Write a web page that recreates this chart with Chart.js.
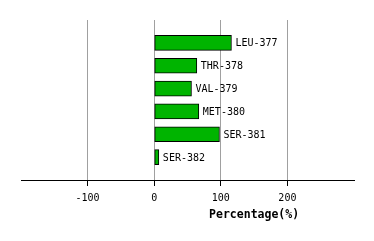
<!DOCTYPE html>
<html>
<head>
<meta charset="utf-8">
<script src="https://cdn.jsdelivr.net/npm/chart.js@4"></script>
<style>
  html, body { margin: 0; padding: 0; background: #fff; }
  #wrap { width: 374px; height: 241px; }
</style>
</head>
<body>
<div id="wrap"><canvas id="chart" width="374" height="241"></canvas></div>
<script>
// residues and their percentage values
const residues = ['LEU-377', 'THR-378', 'VAL-379', 'MET-380', 'SER-381', 'SER-382'];
const percentages = [116, 64, 56, 67, 98, 7];
const xTicks = [-100, 0, 100, 200];
const axisTitle = 'Percentage(%)';

const FONT = "'DejaVu Sans Mono', monospace";

// labels next to each bar + the axis title
const barLabels = {
    id: 'barLabels',
    afterDatasetsDraw(chart) {
        const ctx = chart.ctx;
        const meta = chart.getDatasetMeta(0);
        ctx.save();
        ctx.font = '10px ' + FONT;
        ctx.fillStyle = '#000';
        ctx.textBaseline = 'middle';
        ctx.textAlign = 'left';
        meta.data.forEach((bar, i) => {
            ctx.fillText(residues[i], bar.x + 4, bar.y + 1);
        });
        const xs = chart.scales.x;
        ctx.font = 'bold 11.5px ' + FONT;
        ctx.textAlign = 'center';
        ctx.fillText(axisTitle, xs.getPixelForValue(150), 215);
        ctx.restore();
    }
};

new Chart(document.getElementById('chart'), {
    type: 'bar',
    data: {
        datasets: [{
            data: percentages.map((v, i) => ({ x: v, y: i })),
            backgroundColor: '#00b400',
            borderColor: '#000',
            borderWidth: 1,
            borderSkipped: false,
            barThickness: 15
        }]
    },
    options: {
        indexAxis: 'y',
        responsive: false,
        animation: false,
        layout: { padding: { left: 21, right: 20, top: 20, bottom: 0 } },
        plugins: { legend: { display: false }, tooltip: { enabled: false } },
        scales: {
            y: {
                type: 'linear',
                min: -1,
                max: 6,
                offset: false,
                reverse: true,
                display: false
            },
            x: {
                type: 'linear',
                min: -200,
                max: 300,
                afterBuildTicks: (scale) => {
                    scale.ticks = xTicks.map(v => ({ value: v }));
                },
                afterFit: (scale) => { scale.height = 61; },
                border: { display: true, color: '#000', width: 1 },
                grid: {
                    color: '#a0a0a0',
                    tickColor: '#000',
                    tickLength: 6,
                    lineWidth: 1
                },
                ticks: {
                    font: { family: FONT, size: 10 },
                    color: '#000',
                    padding: 6,
                    maxRotation: 0
                }
            }
        }
    },
    plugins: [barLabels]
});
</script>
</body>
</html>
